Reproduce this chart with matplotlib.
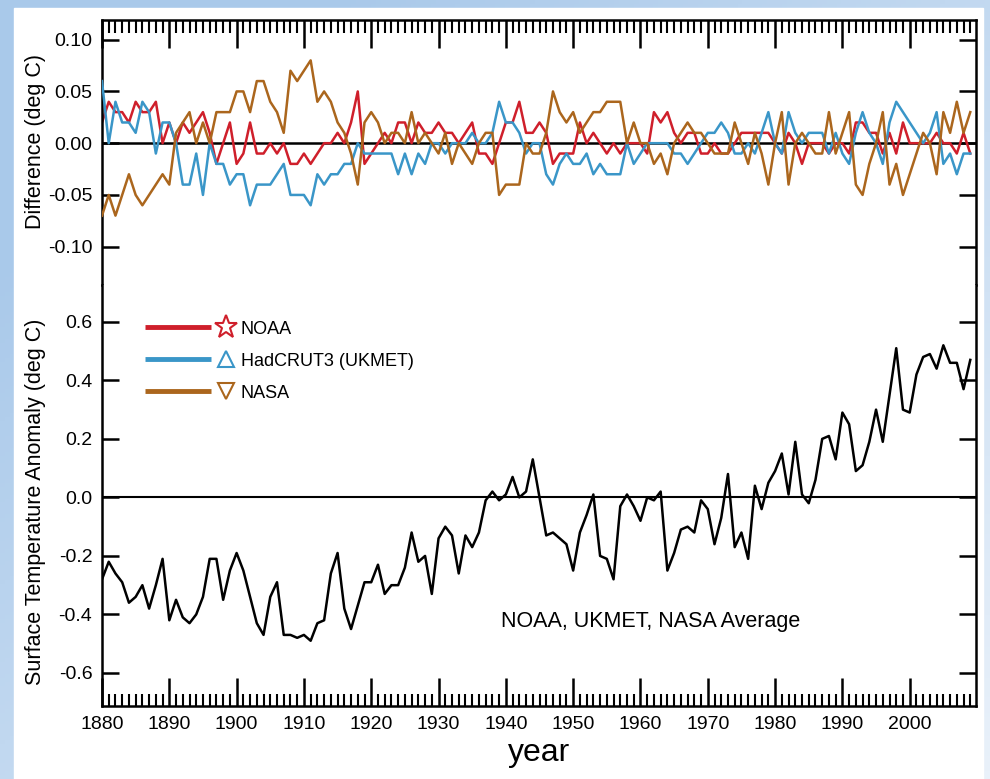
import numpy as np
import matplotlib.pyplot as plt
from matplotlib.lines import Line2D
from matplotlib.legend_handler import HandlerBase
from matplotlib.patches import Rectangle
from matplotlib.colors import LinearSegmentedColormap

plt.rcParams['font.family'] = ['Liberation Sans', 'DejaVu Sans']
plt.rcParams['axes.unicode_minus'] = False

years = np.arange(1880, 2010)

# difference of each dataset from the three-way average (deg C)
noaa_diff = [
    0.02, 0.04, 0.03, 0.03, 0.02, 0.04, 0.03, 0.03, 0.04, 0.00,
    0.02, 0.00, 0.02, 0.01, 0.02, 0.03, 0.01, -0.02, 0.00, 0.02,
    -0.02, -0.01, 0.02, -0.01, -0.01, 0.00, -0.01, 0.00, -0.02, -0.02,
    -0.01, -0.02, -0.01, 0.00, 0.00, 0.01, 0.00, 0.02, 0.05, -0.02,
    -0.01, 0.00, 0.01, 0.00, 0.02, 0.02, 0.00, 0.02, 0.01, 0.01,
    0.02, 0.01, 0.01, 0.00, 0.01, 0.02, -0.01, -0.01, -0.02, 0.00,
    0.02, 0.02, 0.04, 0.01, 0.01, 0.02, 0.01, -0.02, -0.01, -0.01,
    -0.01, 0.02, 0.00, 0.01, 0.00, -0.01, 0.00, -0.01, 0.00, 0.00,
    0.00, -0.01, 0.03, 0.02, 0.03, 0.01, 0.00, 0.01, 0.01, -0.01,
    -0.01, 0.00, -0.01, -0.01, 0.00, 0.01, 0.01, 0.01, 0.01, 0.01,
    0.00, -0.01, 0.01, 0.00, -0.02, 0.00, 0.00, 0.00, -0.01, 0.00,
    0.00, -0.01, 0.02, 0.02, 0.01, 0.01, -0.01, 0.01, -0.01, 0.02,
    0.00, 0.00, 0.00, 0.00, 0.01, 0.00, 0.00, -0.01, 0.01, -0.01,
]
hadcrut_diff = [
    0.06, 0.00, 0.04, 0.02, 0.02, 0.01, 0.04, 0.03, -0.01, 0.02,
    0.02, 0.00, -0.04, -0.04, -0.01, -0.05, 0.00, -0.02, -0.02, -0.04,
    -0.03, -0.03, -0.06, -0.04, -0.04, -0.04, -0.03, -0.02, -0.05, -0.05,
    -0.05, -0.06, -0.03, -0.04, -0.03, -0.03, -0.02, -0.02, 0.00, -0.01,
    -0.01, -0.01, -0.01, -0.01, -0.03, -0.01, -0.03, -0.01, -0.02, 0.00,
    0.00, -0.01, 0.00, 0.00, 0.00, 0.01, 0.00, 0.00, 0.01, 0.04,
    0.02, 0.02, 0.01, -0.01, 0.00, 0.00, -0.03, -0.04, -0.02, -0.01,
    -0.02, -0.02, -0.01, -0.03, -0.02, -0.03, -0.03, -0.03, 0.00, -0.02,
    -0.01, 0.00, 0.00, 0.00, 0.00, -0.01, -0.01, -0.02, -0.01, 0.00,
    0.01, 0.01, 0.02, 0.01, -0.01, -0.01, 0.00, -0.01, 0.01, 0.03,
    0.00, -0.01, 0.03, 0.01, 0.00, 0.01, 0.01, 0.01, -0.01, 0.01,
    -0.01, -0.02, 0.01, 0.03, 0.01, 0.00, -0.02, 0.02, 0.04, 0.03,
    0.02, 0.01, 0.00, 0.01, 0.03, -0.02, -0.01, -0.03, -0.01, -0.01,
]
nasa_diff = [
    -0.07, -0.05, -0.07, -0.05, -0.03, -0.05, -0.06, -0.05, -0.04, -0.03,
    -0.04, 0.01, 0.02, 0.03, 0.00, 0.02, 0.00, 0.03, 0.03, 0.03,
    0.05, 0.05, 0.03, 0.06, 0.06, 0.04, 0.03, 0.01, 0.07, 0.06,
    0.07, 0.08, 0.04, 0.05, 0.04, 0.02, 0.01, -0.01, -0.04, 0.02,
    0.03, 0.02, 0.00, 0.01, 0.01, 0.00, 0.03, 0.00, 0.01, 0.00,
    -0.01, 0.01, -0.02, 0.00, -0.01, -0.02, 0.00, 0.01, 0.01, -0.05,
    -0.04, -0.04, -0.04, 0.00, -0.01, -0.01, 0.01, 0.05, 0.03, 0.02,
    0.03, 0.01, 0.02, 0.03, 0.03, 0.04, 0.04, 0.04, 0.00, 0.02,
    0.00, 0.00, -0.02, -0.01, -0.03, 0.00, 0.01, 0.02, 0.01, 0.01,
    0.00, -0.01, -0.01, -0.01, 0.02, 0.00, -0.02, 0.01, -0.01, -0.04,
    0.00, 0.03, -0.04, 0.00, 0.01, 0.00, -0.01, -0.01, 0.03, -0.01,
    0.01, 0.03, -0.04, -0.05, -0.02, 0.00, 0.03, -0.04, -0.02, -0.05,
    -0.03, -0.01, 0.01, 0.00, -0.03, 0.03, 0.01, 0.04, 0.01, 0.03,
]
# NOAA, UKMET, NASA average anomaly (deg C)
average = [
    -0.28, -0.22, -0.26, -0.29, -0.36, -0.34, -0.30, -0.38, -0.30, -0.21,
    -0.42, -0.35, -0.41, -0.43, -0.40, -0.34, -0.21, -0.21, -0.35, -0.25,
    -0.19, -0.25, -0.34, -0.43, -0.47, -0.34, -0.29, -0.47, -0.47, -0.48,
    -0.47, -0.49, -0.43, -0.42, -0.26, -0.19, -0.38, -0.45, -0.37, -0.29,
    -0.29, -0.23, -0.33, -0.30, -0.30, -0.24, -0.12, -0.22, -0.20, -0.33,
    -0.14, -0.10, -0.13, -0.26, -0.13, -0.17, -0.12, -0.01, 0.02, -0.01,
    0.01, 0.07, 0.00, 0.02, 0.13, 0.00, -0.13, -0.12, -0.14, -0.16,
    -0.25, -0.12, -0.06, 0.01, -0.20, -0.21, -0.28, -0.03, 0.01, -0.03,
    -0.08, 0.00, -0.01, 0.02, -0.25, -0.19, -0.11, -0.10, -0.12, -0.01,
    -0.04, -0.16, -0.07, 0.08, -0.17, -0.12, -0.21, 0.04, -0.04, 0.05,
    0.09, 0.15, 0.01, 0.19, 0.01, -0.02, 0.06, 0.20, 0.21, 0.13,
    0.29, 0.25, 0.09, 0.11, 0.19, 0.30, 0.19, 0.35, 0.51, 0.30,
    0.29, 0.42, 0.48, 0.49, 0.44, 0.52, 0.46, 0.46, 0.37, 0.47,
]

diff_ticks = [-0.10, -0.05, 0.00, 0.05, 0.10]
anom_ticks = [-0.6, -0.4, -0.2, 0.0, 0.2, 0.4, 0.6]
decade_ticks = np.arange(1880, 2001, 10)
series_names = ['NOAA', 'HadCRUT3 (UKMET)', 'NASA']

NOAA_RED = '#cf1f2b'
HAD_BLUE = '#3a96c8'
NASA_BROWN = '#ab661d'

W, H = 990, 779
fig = plt.figure(figsize=(W / 100, H / 100), dpi=100)

# slide-like backdrop: blue gradient with a white page on top
bg = fig.add_axes([0, 0, 1, 1], zorder=-10)
gx, gy = np.meshgrid(np.linspace(0, 1, 200), np.linspace(0, 1, 200))
shade = np.clip((1 - gx) * 0.6 + (1 - gy) * 0.6, 0, 1)
cmap_bg = LinearSegmentedColormap.from_list('bg', ['#e9f1fa', '#a9c9ea'])
bg.imshow(shade, cmap=cmap_bg, extent=[0, 1, 0, 1], aspect='auto', origin='upper')
bg.add_patch(Rectangle((14 / W, 0), (983 - 14) / W, (H - 8) / H, color='white'))
bg.set_xlim(0, 1)
bg.set_ylim(0, 1)
bg.axis('off')

left, right = 102, 976
top, split, bottom = 20, 285, 706
ax_top = fig.add_axes([left / W, 1 - split / H, (right - left) / W, (split - top) / H])
ax_bot = fig.add_axes([left / W, 1 - bottom / H, (right - left) / W, (bottom - split) / H],
                      sharex=ax_top)

# upper panel: differences
ax_top.axhline(0, color='black', lw=1.8, zorder=1)
ax_top.plot(years, noaa_diff, color=NOAA_RED, lw=1.8, zorder=2)
ax_top.plot(years, hadcrut_diff, color=HAD_BLUE, lw=1.8, zorder=3)
ax_top.plot(years, nasa_diff, color=NASA_BROWN, lw=1.8, zorder=4)
ax_top.set_ylim(-0.137, 0.119)
ax_top.set_yticks(diff_ticks)
ax_top.set_yticklabels(['%.2f' % v for v in diff_ticks])
ax_top.set_ylabel('Difference (deg C)', fontsize=15.5)
ax_top.yaxis.set_label_coords(-0.064, 0.54)
ax_top.spines['bottom'].set_visible(False)

# lower panel: average anomaly
ax_bot.axhline(0, color='black', lw=1.5, zorder=1)
ax_bot.plot(years, average, color='black', lw=1.8, zorder=2)
ax_bot.set_ylim(-0.713, 0.726)
ax_bot.set_yticks(anom_ticks)
ax_bot.set_yticklabels(['%.1f' % v for v in anom_ticks])
ax_bot.set_ylabel('Surface Temperature Anomaly (deg C)', fontsize=15.5)
ax_bot.yaxis.set_label_coords(-0.064, 0.485)
ax_bot.spines['top'].set_visible(False)
ax_bot.text(1939.3, -0.425, 'NOAA, UKMET, NASA Average', fontsize=15.5, va='center', ha='left')

ax_bot.set_xlim(1880, 2009.85)
ax_bot.set_xticks(decade_ticks)
ax_bot.set_xticks(years, minor=True)
ax_bot.set_xticklabels([str(y) for y in decade_ticks])
ax_bot.set_xlabel('year', fontsize=23, labelpad=4)

for ax in (ax_top, ax_bot):
    for s in ax.spines.values():
        s.set_linewidth(1.8)
    ax.tick_params(axis='y', which='major', direction='in', left=True, right=True,
                   length=12, width=1.8, labelsize=14, pad=7)
    ax.tick_params(axis='x', which='major', direction='in', length=20, width=1.8, labelsize=14, pad=7)
    ax.tick_params(axis='x', which='minor', direction='in', length=9, width=1.5)

ax_top.tick_params(axis='x', which='both', bottom=False, top=True, labelbottom=False, labeltop=False)
ax_bot.tick_params(axis='x', which='both', bottom=True, top=False)


class LineThenMarker(HandlerBase):
    def create_artists(self, legend, orig, xdescent, ydescent, width, height, fontsize, trans):
        y = height / 2 - ydescent
        x0 = -xdescent
        seg = Line2D([x0, x0 + 0.72 * width], [y, y], color=orig.get_color(), lw=3.5,
                     solid_capstyle='butt')
        mk = Line2D([x0 + 0.88 * width], [y], ls='none', marker=orig.get_marker(),
                    ms=orig.get_markersize(), mfc='white', mec=orig.get_color(), mew=1.5)
        seg.set_transform(trans)
        mk.set_transform(trans)
        return [seg, mk]


handles = [
    Line2D([], [], color=NOAA_RED, marker='*', ms=17),
    Line2D([], [], color=HAD_BLUE, marker='^', ms=11),
    Line2D([], [], color=NASA_BROWN, marker='v', ms=11),
]
ax_bot.legend(handles, series_names, loc='upper left', bbox_to_anchor=(0.049, 0.915),
              frameon=False, fontsize=13, handlelength=5.1, handletextpad=0.2,
              labelspacing=0.83, borderpad=0, borderaxespad=0,
              handler_map={Line2D: LineThenMarker()})

fig.savefig('out.png', dpi=100)
